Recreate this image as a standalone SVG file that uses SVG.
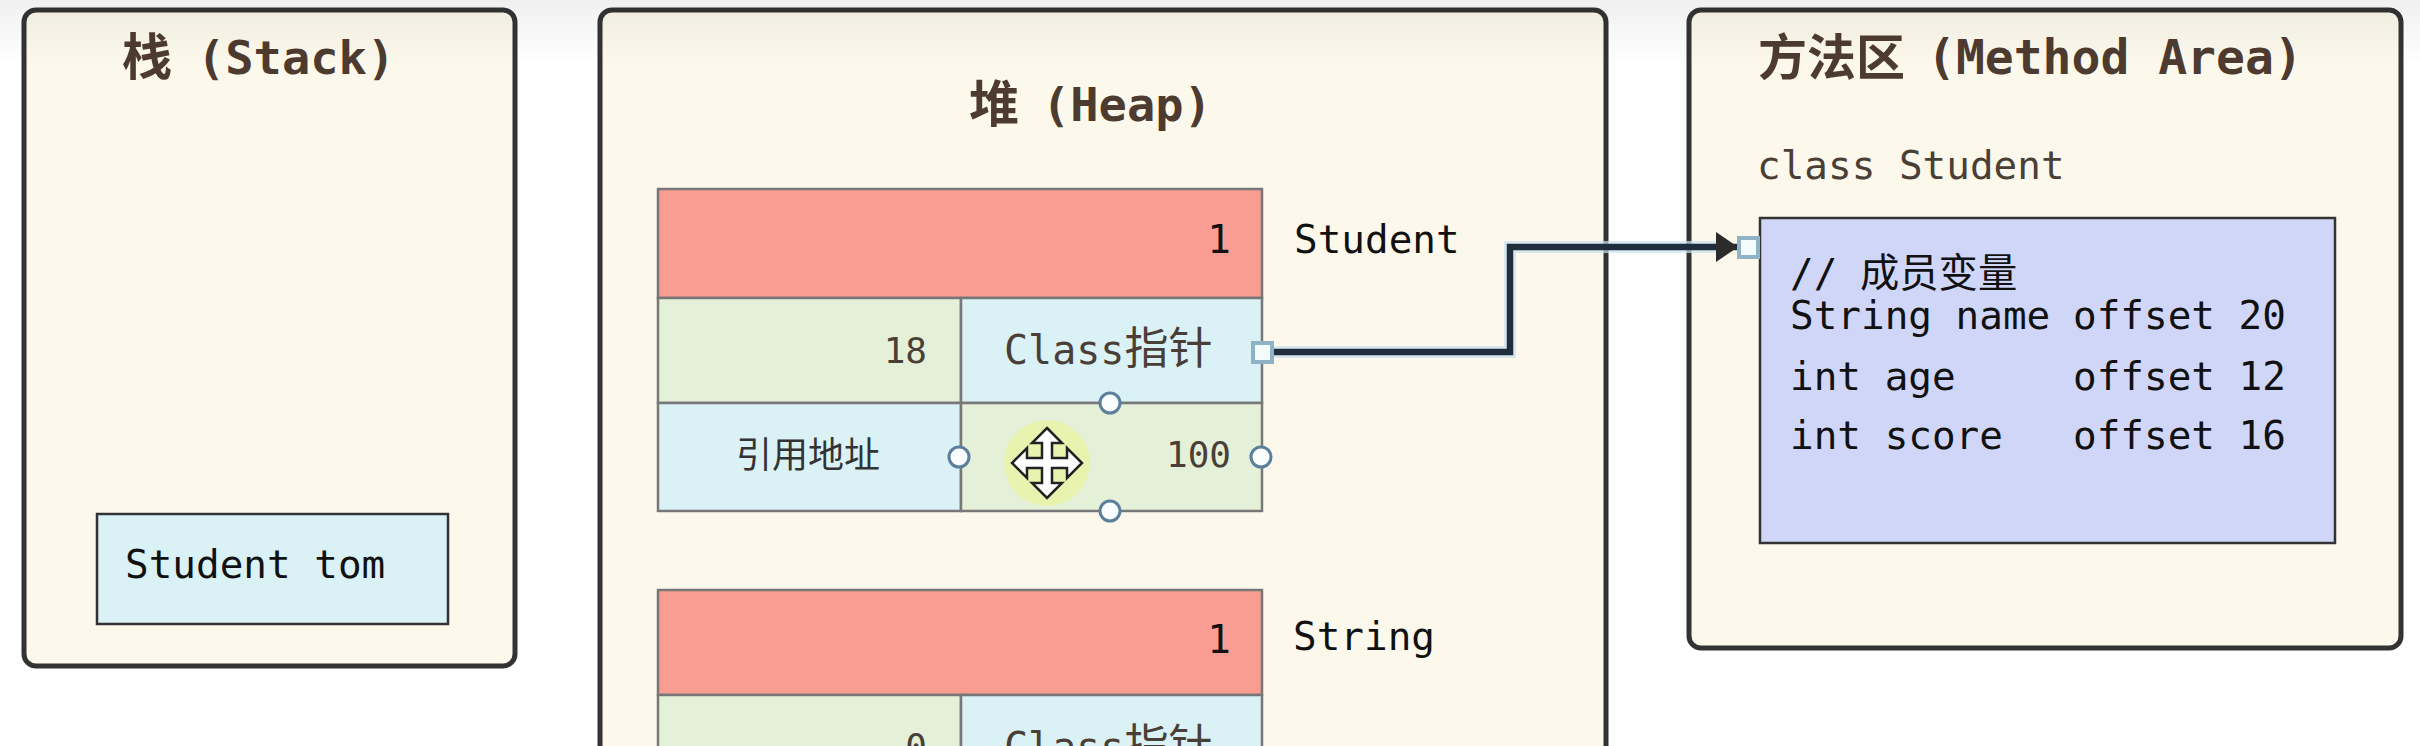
<svg xmlns="http://www.w3.org/2000/svg" width="2420" height="746" viewBox="0 0 2420 746">
<style>
.panel{fill:#fcf9ec;stroke:#333;stroke-width:5}
.cell{stroke:#777;stroke-width:2.5}
.red{fill:#f99c92}.green{fill:#e4f0d8}.blue{fill:#daf1f6}
.mono{font-family:"DejaVu Sans Mono","Noto Sans CJK SC",monospace;font-size:39.3px;fill:#111}
.brown{fill:#4a3f36}
.title{font-family:"DejaVu Sans Mono","Noto Sans CJK SC",monospace;font-size:47px;font-weight:bold;fill:#4e3b30}
.cjk{font-family:"Noto Sans CJK SC",sans-serif}
.end{text-anchor:end}
.handle{fill:#fbfeff;stroke:#5b7f9c;stroke-width:3}
.square{fill:#f4fbfd;stroke:#8fb3c4;stroke-width:4}
</style>
<defs>
<linearGradient id="topfade" x1="0" y1="0" x2="0" y2="1"><stop offset="0" stop-color="#000" stop-opacity=".06"/><stop offset="1" stop-color="#000" stop-opacity="0"/></linearGradient>
<marker id="arrow" markerUnits="userSpaceOnUse" markerWidth="24" markerHeight="30" refX="22" refY="15" orient="auto"><path d="M0 0L22 15L0 30Z" fill="#2b2b2b"/></marker>
</defs>
<rect width="2420" height="746" fill="#fff"/>
<g id="stack">
<rect class="panel" x="24" y="10" width="491" height="656" rx="12"/>
<text class="title" x="122" y="75" font-size="50" style="font-size:50px">栈<tspan x="197" y="74" style="font-size:47px">(Stack)</tspan></text>
<g id="stack-var">
<rect x="97" y="514" width="351" height="110" fill="#daf1f6" stroke="#333" stroke-width="2.5"/>
<text class="mono" x="125" y="578">Student tom</text>
</g>
</g>
<g id="heap">
<rect class="panel" x="600" y="10" width="1006" height="780" rx="12"/>
<text class="title" x="969" y="122" style="font-size:50px">堆<tspan x="1042" y="121" style="font-size:47px">(Heap)</tspan></text>
</g>
<g id="student-object">
<rect class="cell red" x="658" y="189" width="604" height="109"/>
<rect class="cell green" x="658" y="298" width="303" height="105"/>
<rect class="cell blue" x="961" y="298" width="301" height="105"/>
<rect class="cell blue" x="658" y="403" width="303" height="108"/>
<rect class="cell green" x="961" y="403" width="301" height="108"/>
<text class="mono end" x="1231" y="253">1</text>
<text class="mono" x="1294" y="253">Student</text>
<text class="mono brown end" x="927" y="363" style="font-size:36px">18</text>
<text class="mono brown" x="1004" y="364" style="font-size:40px">Class<tspan class="cjk" font-size="44">指针</tspan></text>
<text class="cjk" x="808" y="468" text-anchor="middle" font-size="36" fill="#333">引用地址</text>
<text class="mono brown end" x="1231" y="467" style="font-size:36px">100</text>
</g>
<g id="string-object">
<rect class="cell red" x="658" y="590" width="604" height="105"/>
<rect class="cell green" x="658" y="695" width="303" height="60"/>
<rect class="cell blue" x="961" y="695" width="301" height="60"/>
<text class="mono end" x="1231" y="653">1</text>
<text class="mono" x="1293" y="650">String</text>
<text class="mono brown end" x="927" y="759" style="font-size:36px">0</text>
<text class="mono brown" x="1004" y="761" style="font-size:40px">Class<tspan class="cjk" font-size="44">指针</tspan></text>
</g>
<g id="method-area">
<rect class="panel" x="1689" y="10" width="712" height="638" rx="12"/>
<text class="title" x="1758" y="75" style="font-size:49px">方法区<tspan x="1927" y="74" style="font-size:48px">(Method Area)</tspan></text>
<text class="mono brown" x="1757" y="179">class Student</text>
<g id="class-student">
<rect x="1760" y="218" width="575" height="325" fill="#d0d6f8" stroke="#333" stroke-width="2.5"/>
<text class="mono" x="1790" y="287">// <tspan class="cjk" x="1860">成员变量</tspan></text>
<text class="mono" x="1790" y="329">String name</text><text class="mono" x="2073" y="329">offset 20</text>
<text class="mono" x="1790" y="390">int age</text><text class="mono" x="2073" y="390">offset 12</text>
<text class="mono" x="1790" y="449">int score</text><text class="mono" x="2073" y="449">offset 16</text>
</g>
</g>
<g id="connectors">
<path d="M1262 352H1510V247H1716" fill="none" stroke="#c9e2f0" stroke-width="12" stroke-opacity=".7"/>
<path d="M1262 352H1510V247H1738" fill="none" stroke="#1f2d3d" stroke-width="6.5" marker-end="url(#arrow)"/>
</g>
<g id="selection-handles">
<rect class="square" x="1253" y="343" width="19" height="19"/>
<rect class="square" x="1739" y="238" width="19" height="19"/>
<circle class="handle" cx="1110" cy="403" r="10"/>
<circle class="handle" cx="1110" cy="511" r="10"/>
<circle class="handle" cx="959" cy="457" r="10"/>
<circle class="handle" cx="1261" cy="457" r="10"/>
</g>
<g id="cursor">
<circle cx="1047" cy="463" r="43" fill="#e9f3a8" fill-opacity=".85"/>
<path transform="translate(1047 463)" d="M0-35L15-20H5V-5H20V-15L35 0L20 15V5H5V20H15L0 35L-15 20H-5V5H-20V15L-35 0L-20-15V-5H-5V-20H-15Z" fill="#fff" stroke="#222" stroke-width="2.5"/>
</g>
<rect id="top-fade" width="2420" height="65" fill="url(#topfade)"/>
</svg>
